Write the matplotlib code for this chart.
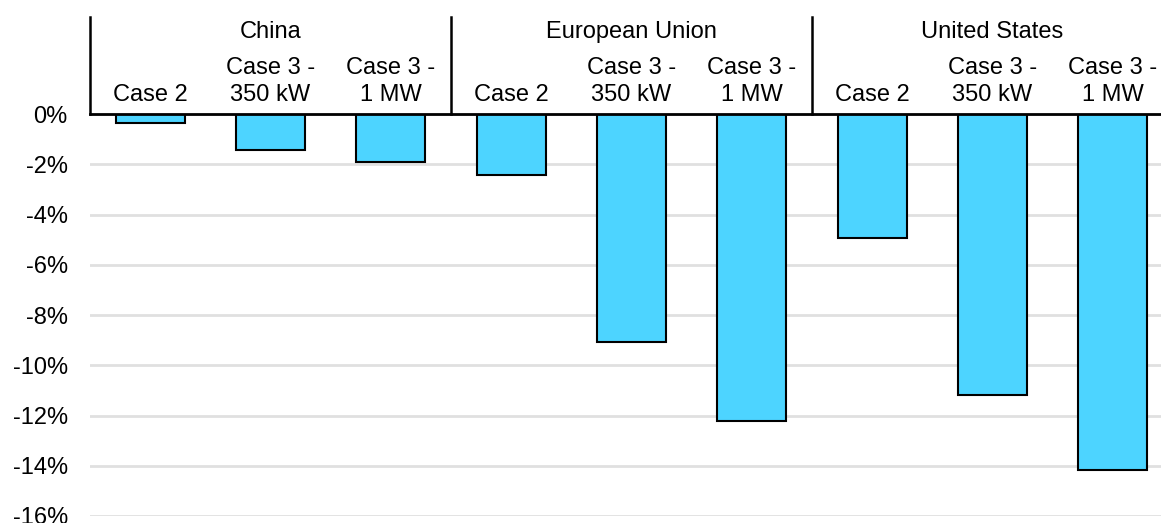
import matplotlib.pyplot as plt

# data
groups = ['China', 'European Union', 'United States']
cases = ['Case 2', 'Case 3 -\n350 kW', 'Case 3 -\n1 MW']
china = [-0.36, -1.43, -1.93]
eu = [-2.43, -9.08, -12.2]
us = [-4.93, -11.2, -14.15]

values = china + eu + us
labels = cases * 3
x = list(range(len(values)))

plt.rcParams['font.family'] = ['Liberation Sans', 'DejaVu Sans']
plt.rcParams['font.size'] = 17

fig = plt.figure(figsize=(11.61, 5.23), dpi=100)
ax = fig.add_axes([90/1161, 7/523, 1 - 90/1161, (516-114)/523])

ax.bar(x, values, width=0.575, color='#4DD4FF', edgecolor='black', linewidth=1.5, zorder=3)

ax.set_ylim(-16, 0)
ax.set_xlim(-0.5, 8.4)
ax.set_yticks(range(-16, 1, 2))
ax.set_yticklabels([f'{v}%' for v in range(-16, 1, 2)])
ax.tick_params(axis='y', length=0, pad=16)
ax.set_xticks([])
ax.grid(axis='y', color='#e0e0e0', linewidth=2, zorder=0)

for s in ['left', 'right', 'bottom']:
    ax.spines[s].set_visible(False)
ax.spines['top'].set_linewidth(2)
ax.spines['top'].set_zorder(5)

# header above the zero line: group separators, group names, case names
for xs in [-0.5, 2.5, 5.5, 8.5]:
    ax.plot([xs, xs], [0, 3.86], color='black', linewidth=1.8, clip_on=False)
for i, g in enumerate(groups):
    ax.text(3*i + 1, 3.26, g, ha='center', va='center', clip_on=False)
for xi, lab in zip(x, labels):
    ax.text(xi, 0.3, lab, ha='center', va='bottom', linespacing=1.3, clip_on=False)

plt.savefig('out.png', dpi=100)
